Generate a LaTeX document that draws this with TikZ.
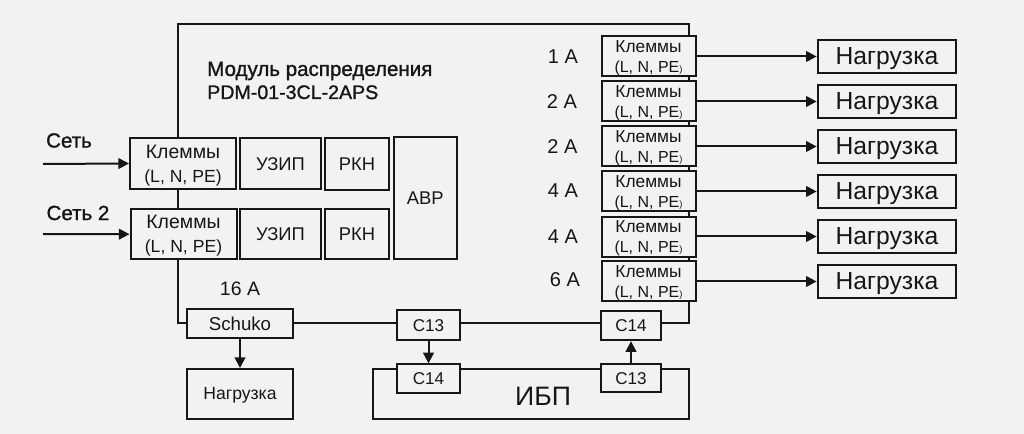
\documentclass[tikz,border=0pt]{standalone}
\usepackage{fontspec}
\setmainfont{Liberation Sans}
\usetikzlibrary{arrows.meta}
\definecolor{bgc}{HTML}{F2F2F2}
\definecolor{ink}{HTML}{161616}
\newcommand{\fsz}[2]{\fontsize{#1}{#2}\selectfont}
\newcommand{\klsmall}{Клеммы\\{\fsz{12}{15}\raisebox{0pt}[\height][0pt]{(L, N, PE{\fontsize{7}{7}\selectfont )}}}}
\newcommand{\klbig}{Клеммы\\{\fsz{13.2}{18}\raisebox{0pt}[\height][0pt]{(L, N, PE)}}}
\tikzset{
  bx/.style={draw=ink,line width=1.5pt,fill=bgc,inner sep=0pt,align=center,text=ink,anchor=center},
  lbl/.style={inner sep=0pt,text=ink,align=left},
  wire/.style={draw=ink,line width=1.5pt},
  arr/.style={wire,-{Triangle[length=8pt,width=8pt]}},
  kbig/.style={font=\fsz{14.6}{18}},
  ksmall/.style={font=\fsz{13}{15}},
  boldt/.style={font=\fsz{15.4}{17.3}\addfontfeature{FakeBold=1.2}},
  cell/.style={font=\fsz{13.8}{15},text height=10pt,text depth=0pt},
  conn/.style={font=\fsz{12.8}{14},text height=9.2pt,text depth=0pt},
}
\begin{document}
\begin{tikzpicture}[x=0.75pt,y=-0.75pt]
\useasboundingbox[fill=bgc] (0,0) rectangle (1024,434);
\coordinate (mTL) at (178,24);
\coordinate (mTR) at (689,24);
\coordinate (mBR) at (689,323);
\coordinate (mBL) at (178,323);
\coordinate (mL1) at (178,138);
\coordinate (mL2) at (178,260);
\coordinate (mM1) at (178,189);
\coordinate (mM2) at (178,209);
\coordinate (s1) at (43,164);
\coordinate (s2) at (43,234);
\draw[wire] (mL1) -- (mTL) -- (mTR) -- (mBR) -- (661,323) (mM1) -- (mM2) (mL2) -- (mBL) -- (187,323);
\node[bx,kbig,minimum width=79.5pt,minimum height=38.25pt] (k1) at (183,163.5) {\klbig};
\node[bx,kbig,minimum width=79.5pt,minimum height=37.9pt] (k2) at (183.5,234.2) {\klbig};
\node[bx,cell,minimum width=60.5pt,minimum height=38.25pt] (u1) at (280.5,163.5) {УЗИП};
\node[bx,cell,minimum width=60.5pt,minimum height=37.9pt] (u2) at (280.5,234.2) {УЗИП};
\node[bx,cell,minimum width=47.5pt,minimum height=39pt] (r1) at (357,164) {РКН};
\node[bx,cell,minimum width=47.5pt,minimum height=37.9pt] (r2) at (357,234.2) {РКН};
\node[bx,cell,minimum width=47.5pt,minimum height=91.9pt] (a) at (425.2,198.2) {АВР};
\node[lbl,boldt,anchor=west] (title) at (207,80.5) {Модуль распределения\\{\fsz{14.7}{17.3}\addfontfeature{FakeBold=1.2}PDM-01-3CL-2APS}};
\node[lbl,boldt] (set1) at (69,140.5) {Сеть};
\node[lbl,boldt] (set2) at (78,213) {Сеть 2};
\draw[arr] (s1) -- (k1.west);
\draw[arr] (s2) -- (k2.west);
\foreach \n/\yk/\yl/\am/\ax/\ay in {1/56.5/56.5/1 А/563/57,2/101.5/101.5/2 А/562/102,3/146.5/146.5/2 А/562.5/147,4/191.5/191.5/4 А/563/191,5/237/236.5/4 А/563/237,6/281.5/281.5/6 А/565/280}{
  \node[bx,ksmall,minimum width=70.5pt,minimum height=30pt] (kr\n) at (648.5,\yk) {\klsmall};
  \node[bx,font=\fsz{18.5}{20},text height=11.7pt,text depth=0pt,minimum width=104pt,minimum height=24.5pt] (load\n) at (887,\yl) {Нагрузка};
  \node[lbl,font=\fsz{15}{15}] (amp\n) at (\ax,\ay) {\am};
  \draw[arr] (kr\n.east |- load\n) -- (load\n);
}
\node[lbl,font=\fsz{14.6}{15}] (a16) at (240,289) {16 А};
\node[bx,font=\fsz{14}{14},text height=10pt,text depth=0pt,minimum width=79.5pt,minimum height=22pt] (sch) at (240,323.5) {Schuko};
\node[bx,font=\fsz{13.2}{14},text height=8.6pt,text depth=0pt,minimum width=79.5pt,minimum height=37.5pt] (nag) at (240,394) {Нагрузка};
\node[bx,minimum width=237pt,minimum height=37.5pt] (ups) at (531,394) {};
\node[lbl,font=\fsz{20}{24}] (upst) at (543,396) {ИБП};
\node[bx,conn,minimum width=47.25pt,minimum height=22pt] (c13a) at (428.5,325) {C13};
\node[bx,conn,minimum width=47.25pt,minimum height=21.5pt] (c14a) at (428.5,378.7) {C14};
\node[bx,conn,minimum width=45pt,minimum height=22pt] (c14b) at (631,325.5) {C14};
\node[bx,conn,minimum width=45pt,minimum height=21.5pt] (c13b) at (631,378) {C13};
\draw[wire] (sch.east |- mBR) -- (c13a.west |- mBR);
\draw[wire] (c13a.east |- mBR) -- (c14b.west |- mBR);
\draw[arr] (sch) -- (nag);
\draw[arr] (c13a) -- (c14a);
\draw[arr] (c13b) -- (c14b);
\end{tikzpicture}
\end{document}
